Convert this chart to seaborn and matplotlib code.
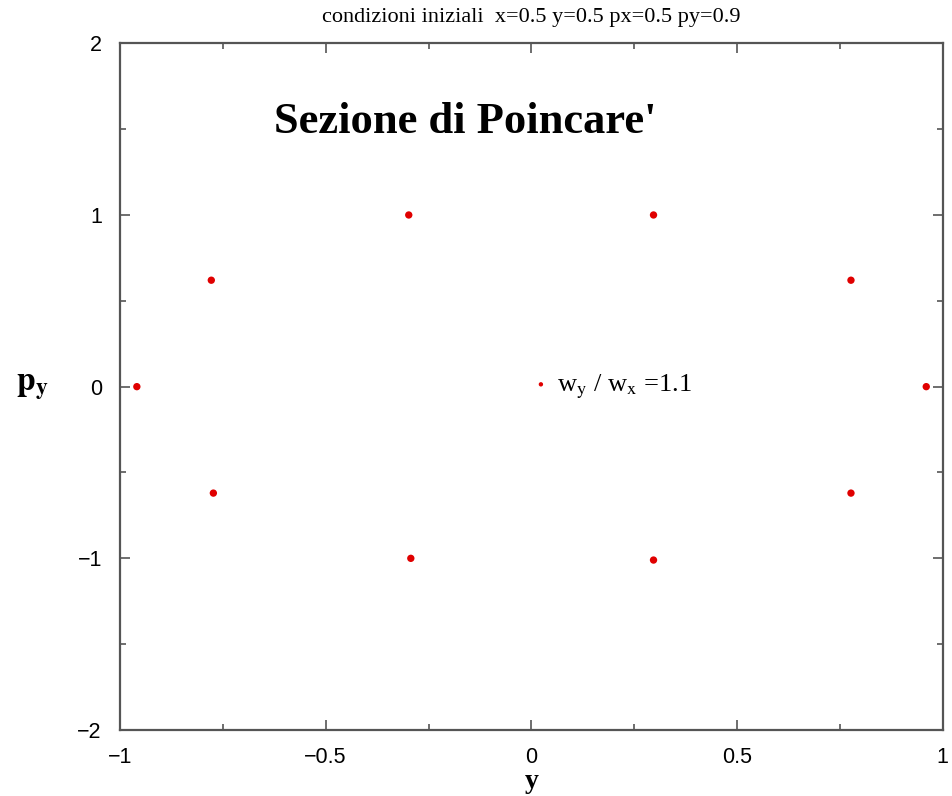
import numpy as np
import pandas as pd
import matplotlib
matplotlib.use("Agg")
import matplotlib.pyplot as plt
import seaborn as sns
from matplotlib.ticker import MultipleLocator

# ================= DATA =================
y_vals = [-0.959, -0.778, -0.298, 0.297, 0.777, 0.960, 0.777, 0.297, -0.293, -0.773]
py_vals = [0.0, 0.62, 1.0, 1.0, 0.62, 0.0, -0.62, -1.01, -1.0, -0.62]

title_text = "condizioni iniziali  x=0.5 y=0.5 px=0.5 py=0.9"
heading_text = "Sezione di Poincare'"
key_label = r"w$_\mathrm{y}$ / w$_\mathrm{x}$ =1.1"

x_ticks = [-1, -0.5, 0, 0.5, 1]
y_ticks = [-2, -1, 0, 1, 2]

df = pd.DataFrame({"y": y_vals, "py": py_vals})

# ================= STYLE =================
sns.set_style("white")
plt.rcParams["font.family"] = ["Liberation Serif", "DejaVu Serif"]
plt.rcParams["mathtext.fontset"] = "stix"
plt.rcParams["text.color"] = "black"
plt.rcParams["axes.labelcolor"] = "black"
plt.rcParams["xtick.labelcolor"] = "black"
plt.rcParams["ytick.labelcolor"] = "black"

RED = "#e00000"
SPINE = "#555555"

fig = plt.figure(figsize=(9.53, 7.96), dpi=100)
ax = fig.add_axes([0.1259, 0.0829, 0.8633, 0.8627])

sns.scatterplot(data=df, x="y", y="py", ax=ax, color=RED, s=28,
                edgecolor="none", legend=False, zorder=3)

# key entry (gnuplot style): small dot + label
ax.scatter([], [], color=RED, s=10, edgecolor="none", label=key_label)
ax.legend(loc="center left", bbox_to_anchor=(0.502, 0.5), frameon=False,
          handlelength=0.6, handletextpad=0.3, borderpad=0, borderaxespad=0,
          fontsize=19, scatterpoints=1)

ax.set_xlim(-1, 1)
ax.set_ylim(-2, 2)
ax.set_xticks(x_ticks)
ax.set_xticklabels(["\u22121", "\u22120.5", "0", "0.5", "1"])
ax.set_yticks(y_ticks)
ax.set_yticklabels(["\u22122", "\u22121", "0", "1", "2"])
ax.xaxis.set_minor_locator(MultipleLocator(0.25))
ax.yaxis.set_minor_locator(MultipleLocator(0.5))

ax.tick_params(which="both", direction="in", top=True, right=True,
               bottom=True, left=True, color=SPINE, width=1.2)
ax.tick_params(which="major", length=7, pad=13)
ax.tick_params(axis="x", which="major", pad=12)
ax.tick_params(which="minor", length=4)
for lab in ax.get_xticklabels() + ax.get_yticklabels():
    lab.set_family(["Liberation Sans", "DejaVu Sans"])
    lab.set_fontsize(15.5)

for sp in ax.spines.values():
    sp.set_visible(True)
    sp.set_color(SPINE)
    sp.set_linewidth(1.6)

ax.set_xlabel("y", fontsize=20, fontweight="bold", va="center")
ax.xaxis.set_label_coords(0.5, -0.0745)
ax.set_ylabel(r"$\mathbf{p_y}$", fontsize=24, rotation=0, va="center", ha="center")
ax.yaxis.set_label_coords(-0.107, 0.5)

ax.set_title(title_text, fontsize=16, pad=15)
ax.text(0.42, 0.886, heading_text, transform=ax.transAxes, ha="center",
        va="center", fontsize=32, fontweight="bold")

fig.savefig("out.png", dpi=100)
plt.close(fig)
